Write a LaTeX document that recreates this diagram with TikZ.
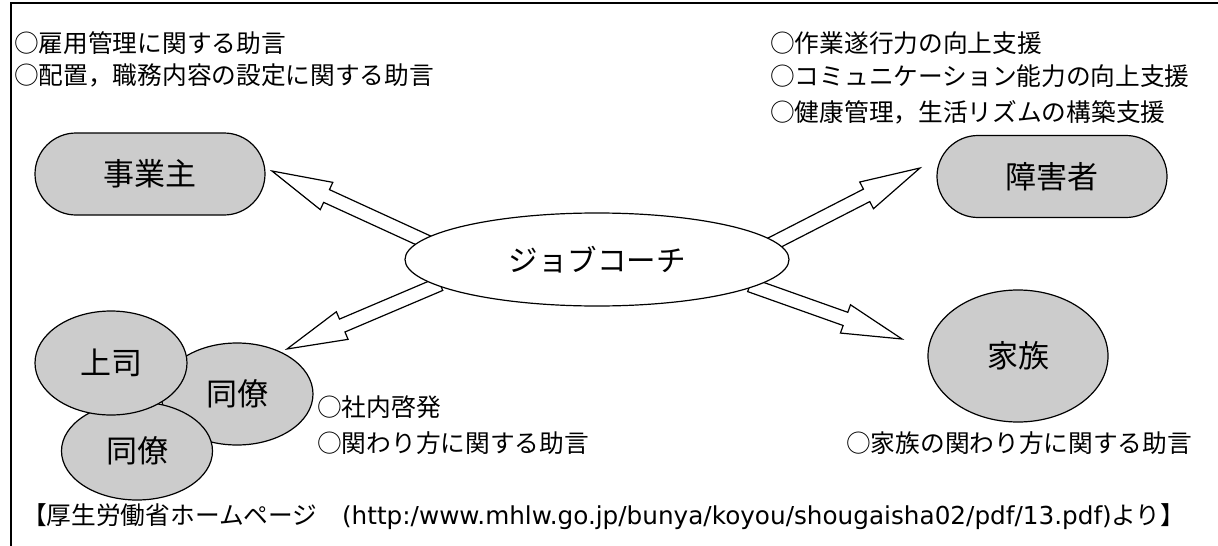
\documentclass[tikz,border=0pt]{standalone}
\usepackage{fontspec}
\setmainfont{Noto Sans CJK JP}
\newfontfamily\latfont{DejaVu Sans}
\usetikzlibrary{calc,shapes.geometric,shapes.misc}
\definecolor{nodegray}{RGB}{204,204,204}
\pgfdeclarelayer{behind}
\pgfsetlayers{behind,main}
\newcommand\blockarrow[2]{%
  \draw[barrow] ($(#1)!7pt!90:(#2)$) -- ($(#2)!60pt!(#1)!7pt!270:(#1)$) -- ($(#2)!60pt!(#1)!15pt!270:(#1)$) -- (#2)
   -- ($(#2)!60pt!(#1)!15pt!90:(#1)$) -- ($(#2)!60pt!(#1)!7pt!90:(#1)$) -- ($(#1)!7pt!270:(#2)$) -- cycle;}
\begin{document}
\begin{tikzpicture}[x=1pt,y=-1pt,
  txt/.style={inner sep=0pt, font=\fontsize{24.7}{30}\selectfont, anchor=west},
  graynode/.style={draw, line width=1.2pt, fill=nodegray, font=\fontsize{31}{36}\selectfont},
  ovalnode/.style={graynode, ellipse, inner sep=0pt},
  stadium/.style={graynode, rounded rectangle, minimum width=230pt, minimum height=82pt, inner sep=0pt},
  barrow/.style={draw, line width=1.2pt, fill=white, line join=miter}]
\useasboundingbox (0,0) rectangle (1218,546);
\draw[line width=2pt] (1218,3) -- (11,3) -- (11,546);

% gray nodes
\node[stadium] (emp) at (150,174) {事業主};
\node[stadium] (dis) at (1052,176.5) {障害者};
\node[ovalnode, minimum width=180pt, minimum height=132pt] (fam) at (1018,356) {家族};
\node[ovalnode, minimum width=152pt, minimum height=102pt] (col1) at (237,394) {同僚};
\node[ovalnode, minimum width=151pt, minimum height=98pt] (col2) at (137,451) {同僚};
\node[ovalnode, minimum width=152pt, minimum height=104pt] (boss) at (111,363) {上司};

% job coach
\node[draw, line width=1.2pt, fill=white, ellipse, inner sep=0pt, minimum width=384pt, minimum height=93pt,
      font=\fontsize{29.5}{34}\selectfont] (jc) at (597,259.5) {ジョブコーチ};

% arrows
\coordinate (t1) at (440,248); \coordinate (p1) at (272,171);
\coordinate (t2) at (760,250); \coordinate (p2) at (920,168);
\coordinate (t3) at (750,285); \coordinate (p3) at (902,339);
\coordinate (t4) at (440,284); \coordinate (p4) at (287,349);
\begin{pgfonlayer}{behind}
\blockarrow{t1}{p1}
\blockarrow{t2}{p2}
\blockarrow{t3}{p3}
\blockarrow{t4}{p4}
\end{pgfonlayer}

% texts
\node[txt] (e1) at (14,43) {○雇用管理に関する助言};
\node[txt] (e2) at (14,75) {○配置，職務内容の設定に関する助言};
\node[txt] (d1) at (770,43) {○作業遂行力の向上支援};
\node[txt] (d2) at (770,76) {○コミュニケーション能力の向上支援};
\node[txt] (d3) at (770,112) {○健康管理，生活リズムの構築支援};
\node[txt] (c1) at (317,407) {○社内啓発};
\node[txt] (c2) at (317,443) {○関わり方に関する助言};
\node[txt] (f1) at (846,443) {○家族の関わり方に関する助言};
\node[txt] (src) at (22,517) {【厚生労働省ホームページ　{\latfont (http:/www.mhlw.go.jp/bunya/koyou/shougaisha02/pdf/13.pdf)}より】};
\end{tikzpicture}
\end{document}
